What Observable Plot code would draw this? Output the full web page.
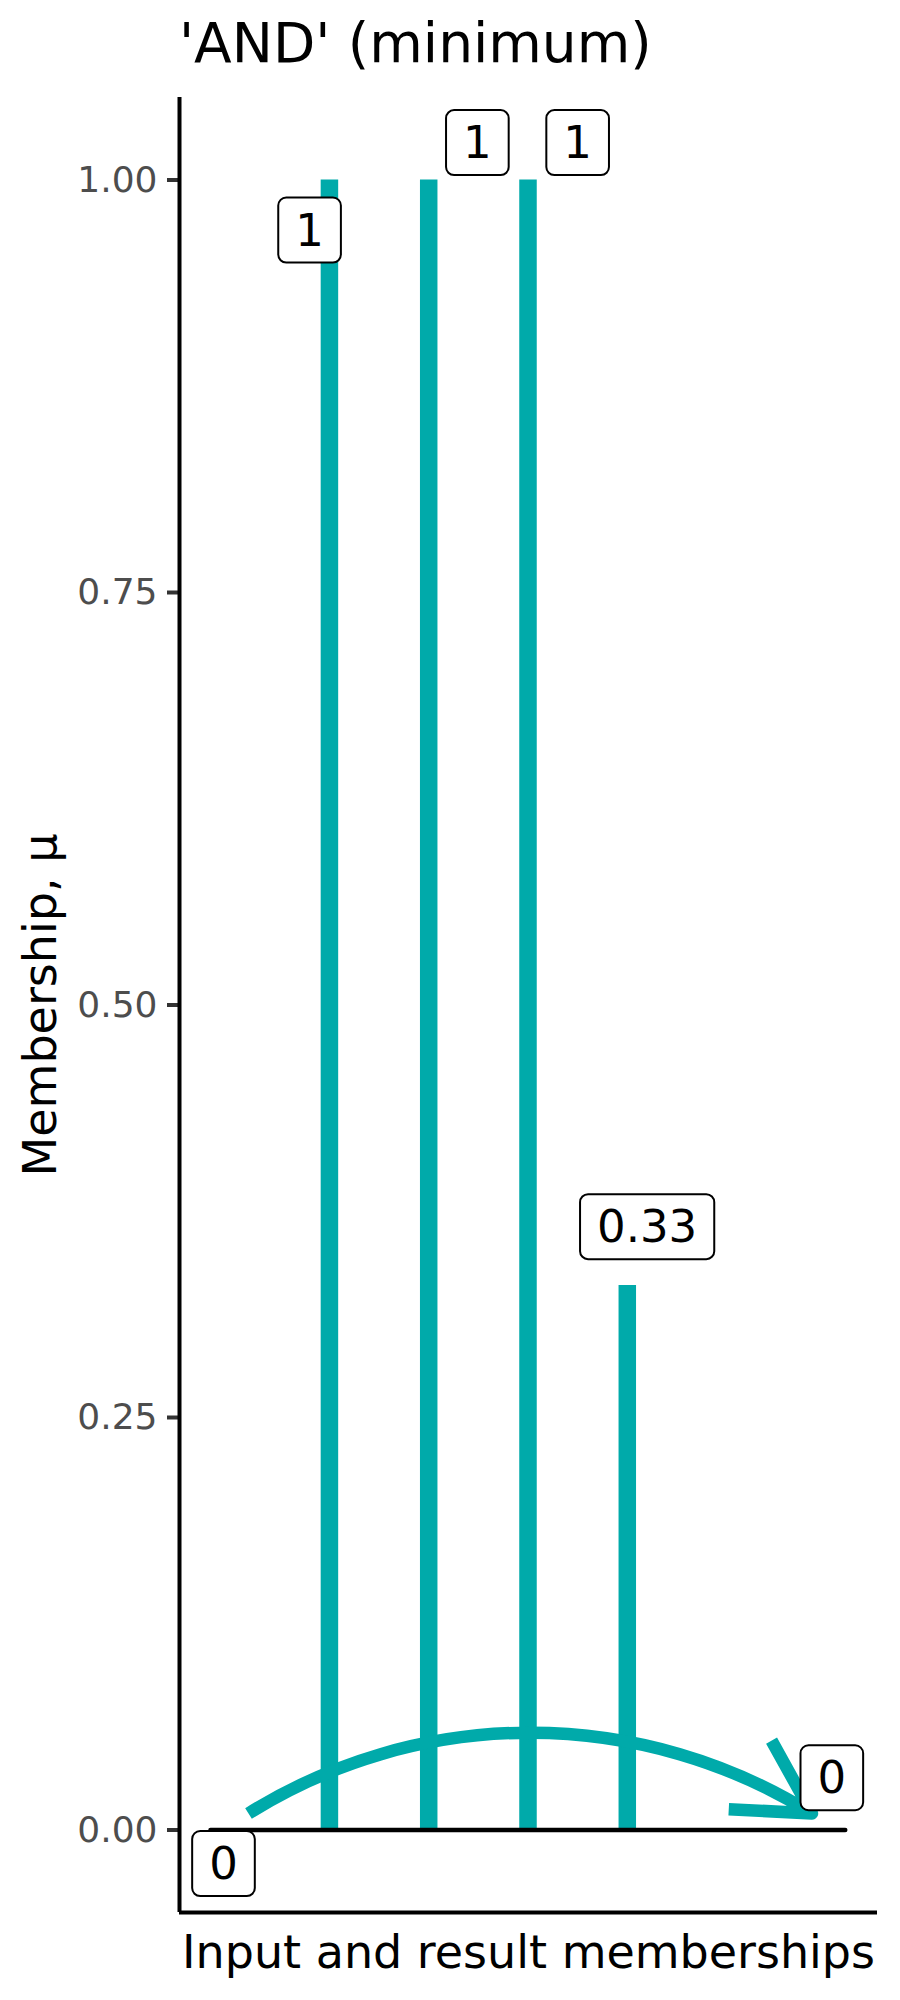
<!DOCTYPE html>
<html>
<head>
<meta charset="utf-8">
<script src="https://cdn.jsdelivr.net/npm/d3@7"></script>
<script src="https://cdn.jsdelivr.net/npm/@observablehq/plot@0.6"></script>
<style>
  html, body { margin: 0; padding: 0; background: #fff; }
  #title { box-sizing: border-box; height: 80px; padding-top: 16px; padding-left: 179px;
           font: 55px/55px "DejaVu Sans", sans-serif; color: #000; white-space: nowrap; }
</style>
</head>
<body>
<div id="title">'AND' (minimum)</div>
<div id="chart"></div>
<script>
// ---- data ----
const barX = [1, 2, 3, 4];
const barValue = [1, 1, 1, 0.33];
const labelText = ["0", "1", "1", "1", "0.33", "0"];
const labelX = [-0.067, 0.80, 2.49, 3.50, 4.20, 6.06];
const labelY = [-0.021, 0.969, 1.022, 1.022, 0.365, 0.031];
const baseX = [-0.198, 6.195];
const baseY = [0, 0];
const arrowFrom = [0.185, 0.01];
const arrowTo = [5.86, 0.01];
const yTicks = [0, 0.25, 0.5, 0.75, 1];
const xDomain = [-0.51, 6.52];
const yDomain = [-0.05, 1.05];

const teal = "#00AAAA";
const bars = barX.map((x, i) => ({x, v: barValue[i]}));
const labels = labelText.map((t, i) => ({t, x: labelX[i], y: labelY[i]}));
const base = baseX.map((x, i) => ({x, y: baseY[i]}));
const arrows = [{x1: arrowFrom[0], y1: arrowFrom[1], x2: arrowTo[0], y2: arrowTo[1]}];

const chart = Plot.plot({
  width: 900,
  height: 1920,
  marginTop: 17,
  marginBottom: 88,
  marginLeft: 179,
  marginRight: 23,
  style: {fontFamily: "DejaVu Sans", background: "white"},
  x: {domain: xDomain, axis: null},
  y: {domain: yDomain, axis: null},
  marks: [
    Plot.ruleX(bars, {x: "x", y1: 0, y2: "v", stroke: teal, strokeWidth: 17.5}),
    Plot.line(base, {x: "x", y: "y", stroke: "black", strokeWidth: 4.5}),
    Plot.arrow(arrows, {x1: "x1", y1: "y1", x2: "x2", y2: "y2", bend: 32,
      stroke: teal, strokeWidth: 12.5, headLength: 10, headAngle: 58,
      strokeLinecap: "butt", strokeLinejoin: "round"}),
    Plot.text(labels, {x: "x", y: "y", text: "t", fontSize: 45, fill: "black",
      textAnchor: "middle", lineAnchor: "middle"}),
    Plot.axisY(yTicks, {tickFormat: d3.format(".2f"), tickSize: 12, tickPadding: 10,
      fontSize: 36, fill: "#4D4D4D", stroke: "#333333", strokeWidth: 4, label: null}),
    Plot.ruleX([xDomain[0]], {stroke: "black", strokeWidth: 4}),
    Plot.ruleY([yDomain[0]], {stroke: "black", strokeWidth: 4}),
    Plot.text(["Input and result memberships"], {frameAnchor: "bottom", lineAnchor: "top",
      textAnchor: "middle", dy: 23, fontSize: 46, fill: "black"}),
    Plot.text(["Membership, μ"], {frameAnchor: "left", lineAnchor: "top", textAnchor: "middle",
      rotate: -90, dx: -156, fontSize: 46, fill: "black"})
  ]
});
document.getElementById("chart").append(chart);

// rounded boxes behind the label texts (geom_label look)
const ns = "http://www.w3.org/2000/svg";
for (const g of chart.querySelectorAll('g[aria-label="text"]')) {
  const texts = g.querySelectorAll("text");
  if (texts.length !== labelText.length) continue;
  for (const t of texts) {
    const bb = t.getBBox();
    const padX = 17, padY = 6;
    const r = document.createElementNS(ns, "rect");
    r.setAttribute("x", bb.x - padX);
    r.setAttribute("y", bb.y - padY);
    r.setAttribute("width", bb.width + 2 * padX);
    r.setAttribute("height", bb.height + 2 * padY);
    r.setAttribute("rx", 8);
    r.setAttribute("fill", "white");
    r.setAttribute("stroke", "black");
    r.setAttribute("stroke-width", 2);
    const tr = t.getAttribute("transform");
    if (tr) r.setAttribute("transform", tr);
    t.parentNode.insertBefore(r, t);
  }
}
</script>
</body>
</html>
